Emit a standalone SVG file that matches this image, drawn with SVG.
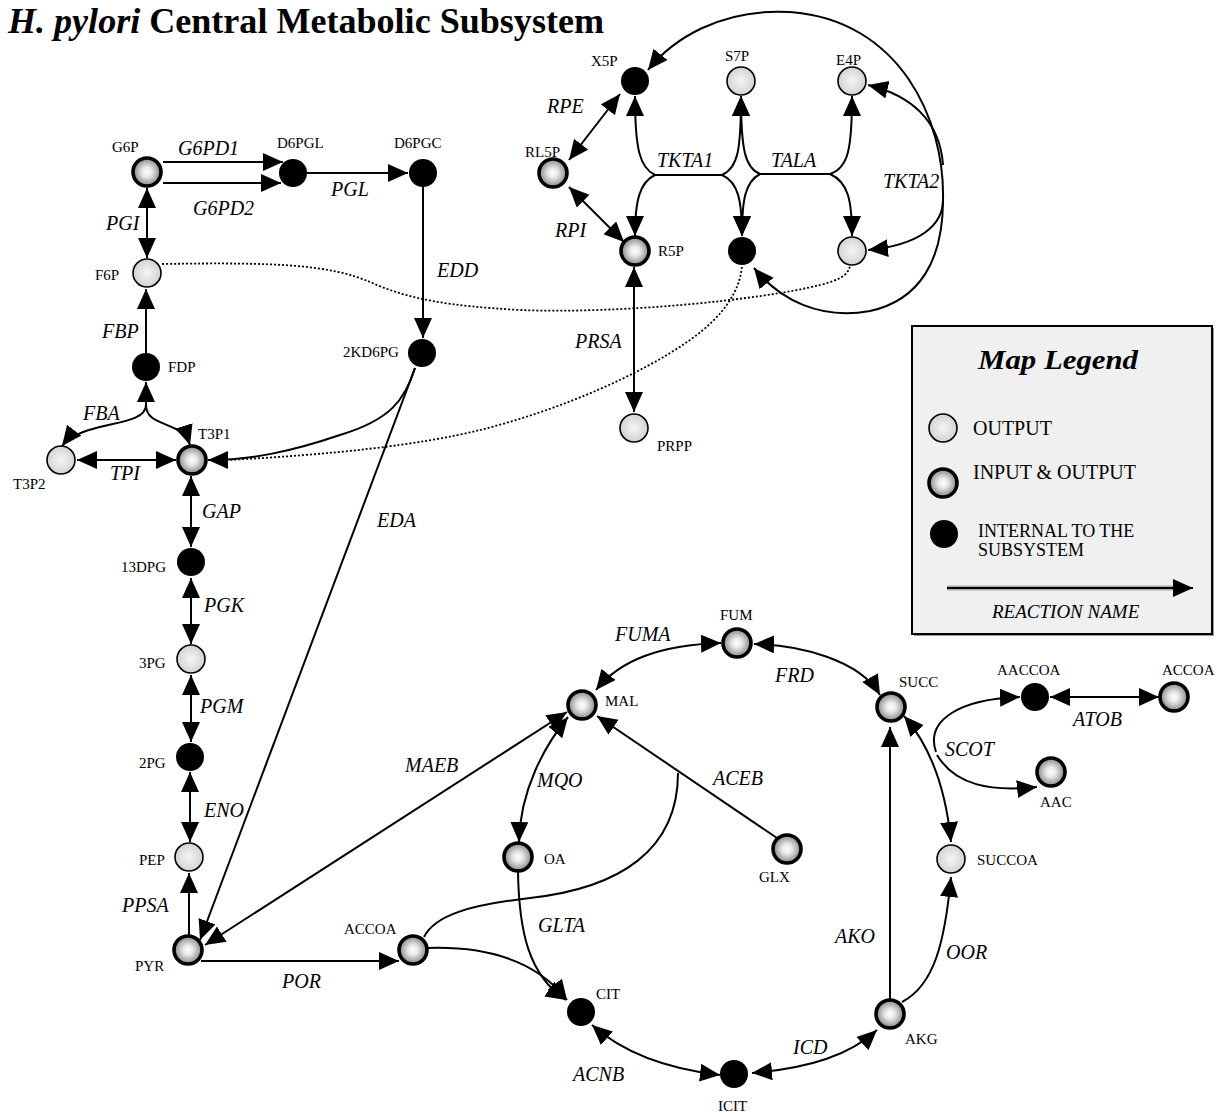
<svg xmlns="http://www.w3.org/2000/svg" width="1217" height="1114" viewBox="0 0 1217 1114">
<defs>
<radialGradient id="gIO" cx="50%" cy="50%" r="50%">
<stop offset="0" stop-color="#ffffff"/>
<stop offset="0.35" stop-color="#e8e8e8"/>
<stop offset="1" stop-color="#858585"/>
</radialGradient>
<radialGradient id="gOut" cx="50%" cy="50%" r="50%">
<stop offset="0" stop-color="#f6f6f6"/>
<stop offset="1" stop-color="#d2d2d2"/>
</radialGradient>
<marker id="ah" markerUnits="userSpaceOnUse" markerWidth="22" markerHeight="20" refX="20" refY="9" orient="auto-start-reverse" viewBox="0 0 22 20">
<path d="M0,0 L20,9 L0,18 z" fill="#000"/>
</marker>
</defs>
<style>
.t{font-family:"Liberation Serif","Times New Roman",serif;fill:#000}
.n{font-size:15px}
.r{font-size:20px;font-style:italic}
.c{fill:none;stroke:#000;stroke-width:2}
.d{fill:none;stroke:#000;stroke-width:1.8;stroke-dasharray:2 2}
.e{marker-end:url(#ah)}
.b{marker-start:url(#ah);marker-end:url(#ah)}
.out{fill:url(#gOut);stroke:#000;stroke-width:1.6}
.io{fill:url(#gIO);stroke:#000;stroke-width:3.6}
.in{fill:#000}
.lg{font-size:20px}
</style>
<rect width="1217" height="1114" fill="#fff"/>
<text class="t" x="8" y="33" style="font-size:35px;font-weight:bold" textLength="596" lengthAdjust="spacingAndGlyphs"><tspan font-style="italic">H. pylori</tspan> Central Metabolic Subsystem</text>

<g id="connectors">
<path class="c e" d="M163,162 L283,162"/>
<path class="c e" d="M163,183 L281,183"/>
<path class="c e" d="M307,173 L408,173"/>
<path class="c e" d="M423,187 L423,338"/>
<path class="c b" d="M147,188 L147,258"/>
<path class="c e" d="M146,353 L146,289"/>
<path class="c e" d="M146,410 L146,382"/>
<path class="c e" d="M146,405 C146,428 82,420 62,446"/>
<path class="c e" d="M146,405 C146,428 182,420 190,445"/>
<path class="c b" d="M77,460 L176,460"/>
<path class="c e" d="M415,368 C405,400 390,420 340,435 C290,452 250,460 208,460"/>
<path class="c e" d="M415,368 L200,940"/>
<path class="c b" d="M191,476 L191,547"/>
<path class="c b" d="M191,578 L191,644"/>
<path class="c b" d="M191,675 L191,742"/>
<path class="c b" d="M190,772 L190,842"/>
<path class="c e" d="M189,935 L189,873"/>
<path class="c e" d="M201,961 L399,961"/>
<path class="c b" d="M567,712 L205,945"/>
<path class="c b" d="M568,717 C545,745 520,790 519,842"/>
<path class="c e" d="M777,838 L597,716"/>
<path class="c" d="M424,937 C435,915 470,905 530,898 C620,888 678,850 678,773"/>
<path class="c e" d="M428,948 C495,946 540,965 567,1000"/>
<path class="c e" d="M518,872 C519,930 528,975 566,1000"/>
<path class="c b" d="M596,690 C620,660 660,645 721,643"/>
<path class="c b" d="M754,644 C800,645 860,660 880,695"/>
<path class="c e" d="M890,999 L890,727"/>
<path class="c e" d="M902,1002 C935,985 945,940 951,877"/>
<path class="c b" d="M904,716 C925,740 945,780 951,842"/>
<path class="c e" d="M936,752 C925,720 960,699 1020,697"/>
<path class="c e" d="M937,755 C955,785 990,792 1037,787"/>
<path class="c b" d="M1050,697 L1159,697"/>
<path class="c b" d="M877,1030 C850,1055 810,1068 752,1073"/>
<path class="c b" d="M592,1025 C620,1050 660,1068 720,1075"/>
<path class="c b" d="M620,94 L569,160"/>
<path class="c b" d="M569,187 L624,242"/>
<path class="c b" d="M634,267 L634,412"/>
<path class="c" d="M653,175 L722,175"/>
<path class="c e" d="M655,175 C640,168 635,150 635,96"/>
<path class="c e" d="M655,175 C640,182 635,200 635,236"/>
<path class="c e" d="M722,175 C738,168 741,150 741,96"/>
<path class="c e" d="M722,175 C738,182 742,200 742,236"/>
<path class="c" d="M760,174 L830,174"/>
<path class="c e" d="M760,174 C745,168 741,150 741,96"/>
<path class="c e" d="M760,174 C745,182 742,200 742,236"/>
<path class="c e" d="M830,174 C848,168 852,150 852,96"/>
<path class="c e" d="M830,174 C848,182 852,200 852,236"/>
<path class="c e" d="M943,200 C945,120 900,20 790,12 C720,8 672,40 648,70"/>
<path class="c e" d="M943,165 C940,120 910,95 868,85"/>
<path class="c e" d="M943,200 C943,225 920,245 868,250"/>
<path class="c e" d="M943,200 C943,260 920,300 870,311 C820,320 780,300 754,268"/>
<path class="d" d="M162,264 C280,262 330,265 370,282 C410,300 450,306 520,310 C620,314 760,300 820,285 C840,280 848,275 850,266"/>
<path class="d" d="M226,460 C330,455 420,445 480,430 C560,410 640,375 690,340 C725,315 740,290 742,266"/>
</g>

<g id="G6P"><circle class="io" cx="147" cy="172" r="14"/><text class="t n" x="112" y="152">G6P</text></g>
<g id="D6PGL"><circle class="in" cx="293" cy="173" r="14"/><text class="t n" x="277" y="148">D6PGL</text></g>
<g id="D6PGC"><circle class="in" cx="423" cy="173" r="14"/><text class="t n" x="394" y="148">D6PGC</text></g>
<g id="F6P"><circle class="out" cx="147" cy="273" r="14"/><text class="t n" x="95" y="280">F6P</text></g>
<g id="FDP"><circle class="in" cx="146" cy="367" r="14"/><text class="t n" x="168" y="372">FDP</text></g>
<g id="T3P1"><circle class="io" cx="192" cy="460" r="14"/><text class="t n" x="198" y="439">T3P1</text></g>
<g id="T3P2"><circle class="out" cx="61" cy="460" r="14"/><text class="t n" x="13" y="489">T3P2</text></g>
<g id="n2KD6PG"><circle class="in" cx="422" cy="353" r="14"/><text class="t n" x="343" y="357">2KD6PG</text></g>
<g id="n13DPG"><circle class="in" cx="191" cy="562" r="14"/><text class="t n" x="121" y="572">13DPG</text></g>
<g id="n3PG"><circle class="out" cx="191" cy="659" r="14"/><text class="t n" x="139" y="668">3PG</text></g>
<g id="n2PG"><circle class="in" cx="190" cy="757" r="14"/><text class="t n" x="139" y="768">2PG</text></g>
<g id="PEP"><circle class="out" cx="189" cy="857" r="14"/><text class="t n" x="139" y="865">PEP</text></g>
<g id="PYR"><circle class="io" cx="188" cy="950" r="14"/><text class="t n" x="135" y="971">PYR</text></g>
<g id="ACCOA1"><circle class="io" cx="413" cy="950" r="14"/><text class="t n" x="344" y="934">ACCOA</text></g>
<g id="MAL"><circle class="io" cx="582" cy="705" r="14"/><text class="t n" x="605" y="706">MAL</text></g>
<g id="FUM"><circle class="io" cx="737" cy="643" r="14"/><text class="t n" x="720" y="620">FUM</text></g>
<g id="OA"><circle class="io" cx="518" cy="857" r="14"/><text class="t n" x="544" y="864">OA</text></g>
<g id="GLX"><circle class="io" cx="787" cy="849" r="14"/><text class="t n" x="759" y="882">GLX</text></g>
<g id="CIT"><circle class="in" cx="581" cy="1012" r="14"/><text class="t n" x="596" y="999">CIT</text></g>
<g id="ICIT"><circle class="in" cx="734" cy="1074" r="14"/><text class="t n" x="718" y="1111">ICIT</text></g>
<g id="AKG"><circle class="io" cx="890" cy="1014" r="14"/><text class="t n" x="905" y="1044">AKG</text></g>
<g id="SUCC"><circle class="io" cx="891" cy="707" r="14"/><text class="t n" x="899" y="687">SUCC</text></g>
<g id="AACCOA"><circle class="in" cx="1035" cy="697" r="14"/><text class="t n" x="997" y="675">AACCOA</text></g>
<g id="ACCOA2"><circle class="io" cx="1174" cy="697" r="14"/><text class="t n" x="1162" y="675">ACCOA</text></g>
<g id="AAC"><circle class="io" cx="1051" cy="772" r="14"/><text class="t n" x="1040" y="807">AAC</text></g>
<g id="SUCCOA"><circle class="out" cx="951" cy="859" r="14"/><text class="t n" x="977" y="865">SUCCOA</text></g>
<g id="X5P"><circle class="in" cx="635" cy="81" r="14"/><text class="t n" x="591" y="66">X5P</text></g>
<g id="S7P"><circle class="out" cx="741" cy="81" r="14"/><text class="t n" x="725" y="61">S7P</text></g>
<g id="E4P"><circle class="out" cx="852" cy="81" r="14"/><text class="t n" x="836" y="65">E4P</text></g>
<g id="RL5P"><circle class="io" cx="553" cy="173" r="14"/><text class="t n" x="525" y="157">RL5P</text></g>
<g id="R5P"><circle class="io" cx="635" cy="251" r="14"/><text class="t n" x="658" y="256">R5P</text></g>
<g id="T3P_internal"><circle class="in" cx="742" cy="251" r="14"/></g>
<g id="F6P_output"><circle class="out" cx="852" cy="251" r="14"/></g>
<g id="PRPP"><circle class="out" cx="634" cy="428" r="14"/><text class="t n" x="657" y="451">PRPP</text></g>

<g id="reaction-labels">
<text class="t r" x="178" y="155">G6PD1</text>
<text class="t r" x="193" y="215">G6PD2</text>
<text class="t r" x="331" y="196">PGL</text>
<text class="t r" x="106" y="230">PGI</text>
<text class="t r" x="437" y="277">EDD</text>
<text class="t r" x="102" y="338">FBP</text>
<text class="t r" x="83" y="420">FBA</text>
<text class="t r" x="110" y="480">TPI</text>
<text class="t r" x="202" y="518">GAP</text>
<text class="t r" x="377" y="527">EDA</text>
<text class="t r" x="204" y="612">PGK</text>
<text class="t r" x="200" y="713">PGM</text>
<text class="t r" x="204" y="817">ENO</text>
<text class="t r" x="122" y="912">PPSA</text>
<text class="t r" x="282" y="988">POR</text>
<text class="t r" x="405" y="772">MAEB</text>
<text class="t r" x="537" y="787">MQO</text>
<text class="t r" x="713" y="785">ACEB</text>
<text class="t r" x="615" y="641">FUMA</text>
<text class="t r" x="775" y="682">FRD</text>
<text class="t r" x="538" y="932">GLTA</text>
<text class="t r" x="573" y="1081">ACNB</text>
<text class="t r" x="793" y="1054">ICD</text>
<text class="t r" x="835" y="943">AKO</text>
<text class="t r" x="946" y="959">OOR</text>
<text class="t r" x="945" y="756">SCOT</text>
<text class="t r" x="1073" y="726">ATOB</text>
<text class="t r" x="547" y="113">RPE</text>
<text class="t r" x="657" y="167">TKTA1</text>
<text class="t r" x="771" y="167">TALA</text>
<text class="t r" x="883" y="188">TKTA2</text>
<text class="t r" x="555" y="237">RPI</text>
<text class="t r" x="575" y="348">PRSA</text>
</g>

<g id="legend">
<rect x="914" y="328" width="300" height="308" fill="#9a9a9a"/>
<rect x="912" y="326" width="300" height="308" fill="#f0f0f0" stroke="#000" stroke-width="2"/>
<text class="t" x="978" y="369" style="font-size:28px;font-weight:bold;font-style:italic" textLength="160" lengthAdjust="spacingAndGlyphs">Map Legend</text>
<circle class="out" cx="943" cy="428" r="14"/>
<text class="t lg" x="973" y="435">OUTPUT</text>
<circle class="io" cx="943" cy="483" r="14"/>
<text class="t lg" x="973" y="479">INPUT &amp; OUTPUT</text>
<circle class="in" cx="944" cy="534" r="14"/>
<text class="t" x="978" y="537" style="font-size:18px">INTERNAL TO THE</text>
<text class="t" x="978" y="556" style="font-size:18px">SUBSYSTEM</text>
<line x1="947" y1="588" x2="1180" y2="588" stroke="#aaa" stroke-width="5"/>
<path class="c e" d="M947,588 L1193,588"/>
<text class="t" x="992" y="618" style="font-size:19px;font-style:italic">REACTION NAME</text>
</g>
</svg>
